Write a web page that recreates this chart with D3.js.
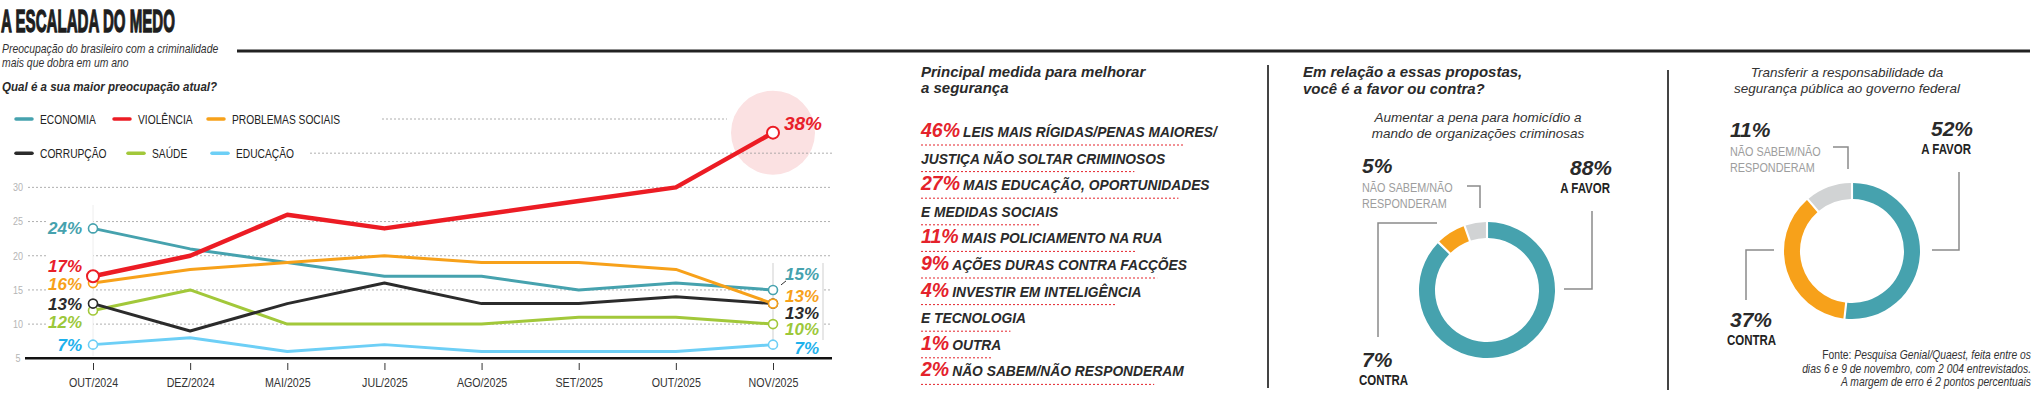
<!DOCTYPE html>
<html><head><meta charset="utf-8">
<script src="https://cdn.jsdelivr.net/npm/d3@7"></script>
<style>
html,body{margin:0;padding:0;background:#fff;}
svg{display:block;}
</style></head><body>
<svg id="c" width="2038" height="400"></svg>
<script>
// ---------- DATA ----------
const months = ["OUT/2024","DEZ/2024","MAI/2025","JUL/2025","AGO/2025","SET/2025","OUT/2025","NOV/2025"];
const economia         = [24,21,19,17,17,15,16,15];
const violencia        = [17,20,26,24,26,28,30,38];
const problemasSociais = [16,18,19,20,19,19,18,13];
const corrupcao        = [13, 9,13,16,13,13,14,13];
const saude            = [12,15,10,10,10,11,11,10];
const educacao         = [ 7, 8, 6, 7, 6, 6, 6, 7];
const seriesNames = ["ECONOMIA","VIOLÊNCIA","PROBLEMAS SOCIAIS","CORRUPÇÃO","SAÚDE","EDUCAÇÃO"];
const yTickLabels = [5,10,15,20,25,30];
const gridValues = [10,15,20,25,30,35,40];

const measurePct = [46,27,11,9,4,1,2];
const measureText = [
  ["LEIS MAIS RÍGIDAS/PENAS MAIORES/","JUSTIÇA NÃO SOLTAR CRIMINOSOS"],
  ["MAIS EDUCAÇÃO, OPORTUNIDADES","E MEDIDAS SOCIAIS"],
  ["MAIS POLICIAMENTO NA RUA"],
  ["AÇÕES DURAS CONTRA FACÇÕES"],
  ["INVESTIR EM INTELIGÊNCIA","E TECNOLOGIA"],
  ["OUTRA"],
  ["NÃO SABEM/NÃO RESPONDERAM"]
];

const answerLabels = ["A FAVOR","CONTRA","NÃO SABEM/NÃO RESPONDERAM"];
const penaValues = [88,7,5];
const transferValues = [52,37,11];

// ---------- STYLE ----------
const SANS = "'Liberation Sans',Arial,sans-serif";
const DARK = "#2a2a2a";
const C = {teal:"#46a2ae", red:"#ec1c24", orange:"#f7a11a", black:"#2b2b2b", green:"#a2c83a", blue:"#6dcff6", grey:"#d1d3d4"};

// condense text horizontally (emulates a narrow typeface)
function cond(sel, r){
  sel.each(function(){
    const w = this.getComputedTextLength();
    this.setAttribute("textLength", w*r);
    this.setAttribute("lengthAdjust","spacingAndGlyphs");
  });
  return sel;
}

const svg = d3.select("#c");

// ---------- HEADER ----------
svg.append("text").attr("x",1).attr("y",32).attr("font-family",SANS).attr("font-weight","bold")
  .attr("font-size",31).attr("fill","#1e1e1e").attr("stroke","#1e1e1e").attr("stroke-width",1.3)
  .attr("textLength",174).attr("lengthAdjust","spacingAndGlyphs").text("A ESCALADA DO MEDO");
cond(svg.append("text").attr("x",2).attr("y",53).attr("font-family",SANS).attr("font-style","italic")
  .attr("font-size",13).attr("fill","#333").text("Preocupação do brasileiro com a criminalidade"),0.8);
cond(svg.append("text").attr("x",2).attr("y",67).attr("font-family",SANS).attr("font-style","italic")
  .attr("font-size",13).attr("fill","#333").text("mais que dobra em um ano"),0.8);
svg.append("line").attr("x1",237).attr("x2",2030).attr("y1",51).attr("y2",51).attr("stroke","#222").attr("stroke-width",3);
cond(svg.append("text").attr("x",2).attr("y",91).attr("font-family",SANS).attr("font-style","italic").attr("font-weight","bold")
  .attr("font-size",13.6).attr("fill",DARK).text("Qual é a sua maior preocupação atual?"),0.85);

// ---------- LINE CHART ----------
const x = d3.scalePoint().domain(months).range([93,773]);
const y = d3.scaleLinear().domain([5,40]).range([358.3,119]);

const g = svg.append("g");
g.append("circle").attr("cx",x(months[7])).attr("cy",y(violencia[7])).attr("r",42).attr("fill","#fbe1e2");

const gridStart = {40:382, 35:310};
const gridEnd = {40:727};
g.selectAll("line.grid").data(gridValues).join("line").attr("class","grid")
  .attr("x1",d=>gridStart[d]||28).attr("x2",d=>gridEnd[d]||832)
  .attr("y1",d=>y(d)).attr("y2",d=>y(d))
  .attr("stroke","#9a9a9a").attr("stroke-width",0.8).attr("stroke-dasharray","2,2");

g.append("rect").attr("x",47).attr("y",200).attr("width",x(months[0])-47).attr("height",156).attr("fill","#fff");
g.append("line").attr("x1",x(months[0])).attr("x2",x(months[0])).attr("y1",205).attr("y2",356).attr("stroke","#eeeeee").attr("stroke-width",1);
g.append("rect").attr("x",x(months[7])).attr("y",262).attr("width",50).attr("height",90).attr("fill","#fff");
[x(months[7]), x(months[7])+50].forEach(xx=>{
  g.append("line").attr("x1",xx).attr("x2",xx).attr("y1",263).attr("y2",340).attr("stroke","#cfcfcf").attr("stroke-width",1);
});

cond(g.selectAll("text.yl").data(yTickLabels).join("text").attr("class","yl")
  .attr("x",18).attr("y",d=>y(d)).attr("dy","0.35em").attr("text-anchor","middle")
  .attr("font-family",SANS).attr("font-size",11).attr("fill","#b5b5b5").text(d=>d),0.82);

const xAxis = d3.axisBottom(x).tickSize(7).tickPadding(8).tickFormat(d=>d);
const ax = g.append("g").attr("transform","translate(0,363)").call(xAxis);
ax.select(".domain").remove();
ax.selectAll(".tick line").attr("stroke","#333").attr("stroke-width",1);
cond(ax.selectAll(".tick text").attr("font-family",SANS).attr("font-size",13).attr("fill","#333"),0.82);
g.append("line").attr("x1",25).attr("x2",832).attr("y1",358.3).attr("y2",358.3).attr("stroke","#111").attr("stroke-width",2.5);

const series = [
  {name:seriesNames[5], values:educacao, color:C.blue, label:"#1db1ec", w:3, l:0, r:3},
  {name:seriesNames[4], values:saude, color:C.green, label:"#9cc83a", w:3, l:12, r:5},
  {name:seriesNames[0], values:economia, color:C.teal, label:"#46a2ae", w:3, l:0, r:-15.6},
  {name:seriesNames[3], values:corrupcao, color:C.black, label:"#2b2b2b", w:3, l:0, r:9},
  {name:seriesNames[2], values:problemasSociais, color:C.orange, label:"#f7a11a", w:3, l:1, r:-8},
  {name:seriesNames[1], values:violencia, color:C.red, label:"#e8202a", w:4.5, l:-10, r:-9}
];
const line = d3.line().x((d,i)=>x(months[i])).y(d=>y(d));
series.forEach(s=>{
  g.append("path").attr("d",line(s.values)).attr("fill","none").attr("stroke",s.color)
    .attr("stroke-width",s.w).attr("stroke-linejoin","round").attr("stroke-linecap","round");
});
series.forEach(s=>{
  const big = s.name==="VIOLÊNCIA";
  [0,7].forEach(i=>{
    g.append("circle").attr("cx",x(months[i])).attr("cy",y(s.values[i])).attr("r",big?6:4.5)
      .attr("fill","#fff").attr("stroke",s.color).attr("stroke-width",big?2:1.6);
  });
  g.append("text").attr("x",82).attr("y",y(s.values[0])+s.l).attr("dy","0.35em").attr("text-anchor","end")
    .attr("font-family",SANS).attr("font-weight","bold").attr("font-style","italic").attr("font-size",17)
    .attr("fill",s.label).text(s.values[0]+"%");
  g.append("text").attr("x",big?822:819).attr("y",y(s.values[7])+s.r).attr("dy","0.35em").attr("text-anchor","end")
    .attr("font-family",SANS).attr("font-weight","bold").attr("font-style","italic").attr("font-size",big?19:17)
    .attr("fill",s.label).text(s.values[7]+"%");
});
g.append("line").attr("x1",x(months[7])+8).attr("y1",y(economia[7])-5).attr("x2",x(months[7])+13).attr("y2",y(economia[7])-9)
  .attr("stroke","#333").attr("stroke-width",1);

const legendRows = [[0,1,2],[3,4,5]];
const legendCols = [[16,114,208],[16,128,212]];
const legendColors = [C.teal,C.red,C.orange,C.black,C.green,C.blue];
legendRows.forEach((row,ri)=>{
  const yy = y(ri===0?40:35);
  row.forEach((si,ci)=>{
    const lx = legendCols[ri][ci];
    g.append("line").attr("x1",lx).attr("x2",lx+16).attr("y1",yy).attr("y2",yy)
      .attr("stroke",legendColors[si]).attr("stroke-width",3.5).attr("stroke-linecap","round");
    cond(g.append("text").attr("x",lx+24).attr("y",yy).attr("dy","0.36em").attr("font-family",SANS)
      .attr("font-size",12.8).attr("fill","#222").text(seriesNames[si]),0.8);
  });
});

// ---------- MEASURES LIST ----------
const mx = 921;
svg.append("text").attr("x",mx).attr("y",77).attr("font-family",SANS).attr("font-weight","bold").attr("font-style","italic")
  .attr("font-size",15).attr("fill",DARK).text("Principal medida para melhorar");
svg.append("text").attr("x",mx).attr("y",93).attr("font-family",SANS).attr("font-weight","bold").attr("font-style","italic")
  .attr("font-size",15).attr("fill",DARK).text("a segurança");
let row = 0;
measurePct.forEach((p,i)=>{
  measureText[i].forEach((t,j)=>{
    const by = 137 + row*26.6;
    let tx0 = mx;
    if(j===0){
      const num = svg.append("text").attr("x",mx).attr("y",by).attr("font-family",SANS).attr("font-weight","bold")
        .attr("font-style","italic").attr("font-size",19.5).attr("fill","#e4222b").text(p+"%");
      tx0 = mx + num.node().getComputedTextLength() + 3;
    }
    const cap = svg.append("text").attr("x",tx0).attr("y",by).attr("font-family",SANS).attr("font-weight","bold")
      .attr("font-style","italic").attr("font-size",15.5).attr("fill",DARK).text(t);
    cond(cap,0.89);
    const end = tx0 + cap.node().getComputedTextLength()*0.89;
    svg.append("line").attr("x1",mx).attr("x2",end-4).attr("y1",by+8).attr("y2",by+8)
      .attr("stroke","#e4222b").attr("stroke-width",1).attr("stroke-dasharray","2,2");
    row++;
  });
});

svg.append("line").attr("x1",1268).attr("x2",1268).attr("y1",65).attr("y2",388).attr("stroke","#444").attr("stroke-width",2);
svg.append("line").attr("x1",1668).attr("x2",1668).attr("y1",70).attr("y2",390).attr("stroke","#444").attr("stroke-width",2);

// ---------- DONUTS ----------
svg.append("text").attr("x",1303).attr("y",77).attr("font-family",SANS).attr("font-weight","bold").attr("font-style","italic")
  .attr("font-size",15).attr("fill",DARK).text("Em relação a essas propostas,");
svg.append("text").attr("x",1303).attr("y",94).attr("font-family",SANS).attr("font-weight","bold").attr("font-style","italic")
  .attr("font-size",15).attr("fill",DARK).text("você é a favor ou contra?");

const pie = d3.pie().sort(null).padAngle(0.025);
const arc = d3.arc().innerRadius(52).outerRadius(68);
const donutColors = [C.teal, C.orange, C.grey];

function donut(cx, cy, values, title, subX, subY, L){
  title.forEach((t,i)=>{
    svg.append("text").attr("x",subX).attr("y",subY+i*15.5).attr("text-anchor","middle").attr("font-family",SANS)
      .attr("font-style","italic").attr("font-size",13.5).attr("fill","#333").text(t);
  });
  const dg = svg.append("g").attr("transform",`translate(${cx},${cy})`);
  dg.selectAll("path").data(pie(values)).join("path").attr("d",arc).attr("fill",(d,i)=>donutColors[i]);
  const big = (xx,yy,txt,anchor)=>dg.append("text").attr("x",xx).attr("y",yy).attr("text-anchor",anchor)
    .attr("font-family",SANS).attr("font-weight","bold").attr("font-style","italic").attr("font-size",21).attr("fill",DARK).text(txt);
  const small = (xx,yy,txt,anchor,col,bold)=>cond(dg.append("text").attr("x",xx).attr("y",yy).attr("text-anchor",anchor)
    .attr("font-family",SANS).attr("font-weight",bold?"bold":"normal").attr("font-size",bold?14:13.2).attr("fill",col).text(txt),0.82);
  const leader = pts=>dg.append("path").attr("d",d3.line()(pts)).attr("fill","none").attr("stroke","#8a8a8a").attr("stroke-width",1.5);
  big(L.fx, L.fy, values[0]+"%", "end");
  small(L.fx-2, L.fy+18, answerLabels[0], "end", "#222", true);
  leader(L.fl);
  big(L.nx, L.ny, values[2]+"%", "start");
  small(L.nx, L.ny+19, "NÃO SABEM/NÃO", "start", "#9d9d9d", false);
  small(L.nx, L.ny+35, "RESPONDERAM", "start", "#9d9d9d", false);
  leader(L.nl);
  big(L.cx, L.cy, values[1]+"%", "start");
  small(L.cx-3, L.cy+18, answerLabels[1], "start", "#222", true);
  leader(L.cl);
}

donut(1487, 290, penaValues, ["Aumentar a pena para homicídio a","mando de organizações criminosas"], 1478, 122, {
  fx:125, fy:-115, fl:[[105,-79],[105,-1],[77,-1]],
  nx:-125, ny:-117, nl:[[-20,-104],[-7,-104],[-7,-82]],
  cx:-125, cy:77, cl:[[-109,47],[-109,-67],[-50,-67]]
});
donut(1852, 251, transferValues, ["Transferir a responsabilidade da","segurança pública ao governo federal"], 1847, 77, {
  fx:121, fy:-115, fl:[[107,-79],[107,-1],[80,-1]],
  nx:-122, ny:-114, nl:[[-19,-104],[-4,-104],[-4,-82]],
  cx:-122, cy:76, cl:[[-106,49],[-106,-1],[-78,-1]]
});

// source (condensed via horizontal scale)
const src = svg.append("g").attr("transform","translate(2031,0) scale(0.84,1)")
  .attr("font-family",SANS).attr("font-size",12.3).attr("fill","#333").attr("text-anchor","end");
const s1 = src.append("text").attr("x",0).attr("y",359);
s1.append("tspan").text("Fonte: ");
s1.append("tspan").attr("font-style","italic").text("Pesquisa Genial/Quaest, feita entre os");
src.append("text").attr("x",0).attr("y",373).attr("font-style","italic").text("dias 6 e 9 de novembro, com 2 004 entrevistados.");
src.append("text").attr("x",0).attr("y",386).attr("font-style","italic").text("A margem de erro é 2 pontos percentuais");
</script>
</body></html>
